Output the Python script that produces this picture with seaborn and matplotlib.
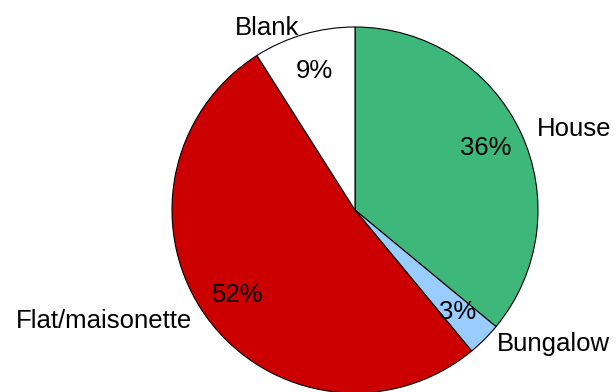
import matplotlib
matplotlib.use('Agg')
import matplotlib.pyplot as plt
import seaborn as sns

# Data (clockwise from 12 o'clock)
categories = ['House', 'Bungalow', 'Flat/maisonette', 'Blank']
shares = [36, 3, 52, 9]
colors = ['#3DB87A', '#99CCFF', '#CC0000', '#FFFFFF']

sns.set_theme(style='white')
plt.rcParams['font.family'] = ['Liberation Sans', 'DejaVu Sans']

fig = plt.figure(figsize=(6.16, 3.92), dpi=100)
ax = fig.add_axes([0, 0, 1, 1])

wedges, texts, autotexts = ax.pie(
    shares, labels=categories, colors=colors, startangle=90, counterclock=False,
    autopct='%d%%', pctdistance=0.79, labeldistance=1.1,
    wedgeprops=dict(edgecolor='black', linewidth=0.8),
    textprops=dict(fontsize=18.5, color='black'))

# outer labels sit a little flatter in the original
for t in texts:
    x, y = t.get_position()
    t.set_position((x, y * 0.94))

# place the pie the way it sits in the original picture
r_px = 183
cx, cy = 355, 392 - 210
ax.set_aspect('auto')
ax.set_xlim(-cx / r_px, (616 - cx) / r_px)
ax.set_ylim(-cy / r_px, (392 - cy) / r_px)
ax.axis('off')

plt.savefig('out.png', dpi=100)
